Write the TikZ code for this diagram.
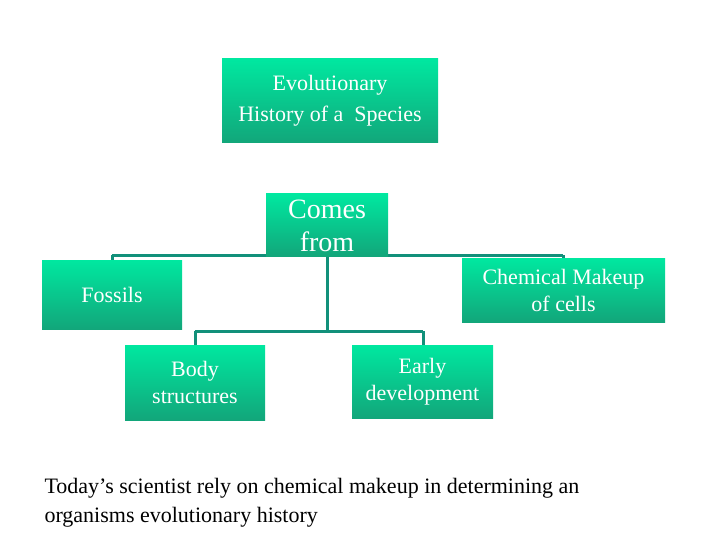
\documentclass[tikz,border=0pt]{standalone}
\usepackage{fontspec}
\setmainfont{Liberation Serif}
\definecolor{gtop}{HTML}{00E8A0}
\definecolor{gbot}{HTML}{12A67A}
\definecolor{lin}{HTML}{12907A}
\tikzset{gbox/.style={inner sep=0pt,top color=gtop,bottom color=gbot,draw=none,text=white,align=center,font=\fontsize{22}{27}\selectfont},
conn/.style={draw=lin,line width=3pt}}
\begin{document}
\begin{tikzpicture}[x=1pt,y=-1pt]
\useasboundingbox (0,0) rectangle (720,540);
\draw[conn] (112,255) -- (563,255);
\draw[conn] (112,255) -- (112,262);
\draw[conn] (563,255) -- (563,260);
\draw[conn] (327,255) -- (327,331);
\draw[conn] (195,331) -- (423,331);
\draw[conn] (195,331) -- (195,347);
\draw[conn] (423,331) -- (423,347);
\node[gbox,minimum width=216pt,minimum height=84pt] (evo) at (330,101) {Evolutionary\\[4pt]History of a\ \ Species};
\node[gbox,minimum width=122pt,minimum height=62pt,font=\fontsize{28}{33}\selectfont] (comes) at (327,225) {};
\node[text=white,align=center,font=\fontsize{28}{33}\selectfont] (ct) at (327,226) {Comes\\from};
\node[gbox,minimum width=140pt,minimum height=69pt] (fos) at (112,294.5) {Fossils};
\node[gbox,minimum width=203pt,minimum height=64pt] (chem) at (563.5,290) {Chemical Makeup\\of cells};
\node[gbox,minimum width=140pt,minimum height=75pt] (body) at (195,382.5) {Body\\structures};
\node[gbox,minimum width=141pt,minimum height=73pt] (early) at (422.5,381.5) {Early\\development};
\node[anchor=north west,align=left,font=\fontsize{22}{29}\selectfont] (note) at (41,475) {Today’s scientist rely on chemical makeup in determining an\\organisms evolutionary history};
\end{tikzpicture}
\end{document}
